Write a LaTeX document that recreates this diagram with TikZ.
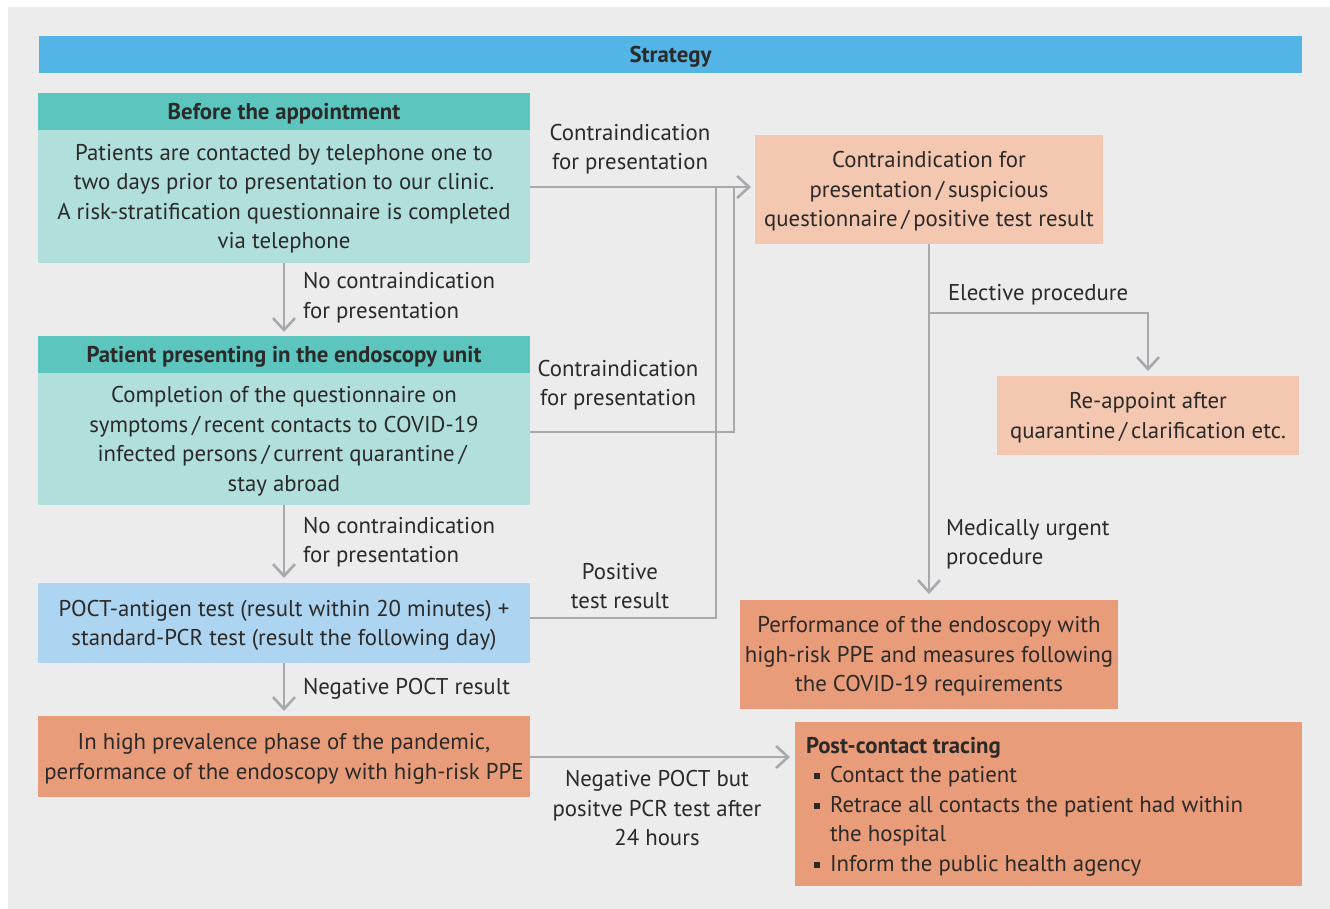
\documentclass[tikz,border=0pt]{standalone}
\usepackage{fontspec}
\setmainfont{PT Sans}
\usetikzlibrary{arrows.meta}
\definecolor{panel}{HTML}{EBECEB}
\definecolor{stratblue}{HTML}{53B4E6}
\definecolor{tealH}{HTML}{5BC5BE}
\definecolor{tealL}{HTML}{B0DFDC}
\definecolor{blueL}{HTML}{ADD4F0}
\definecolor{orangeD}{HTML}{E99C7A}
\definecolor{salmonL}{HTML}{F4C7B0}
\definecolor{linegray}{HTML}{A7A9AC}
\definecolor{txt}{HTML}{2B2A29}
\newcommand\fs{\fontsize{22.8}{29.5}\selectfont}
\newcommand\bul{\makebox[24pt][l]{\hspace{8pt}\raisebox{3.5pt}{\rule{6pt}{6pt}}}}
\newcommand\slsep{\,/\,}
\newcommand\tx[1]{\raisebox{-2pt}[\height][\depth]{\begin{tabular}{@{}c@{}}#1\end{tabular}}}
\newcommand\txl[1]{\raisebox{-2.5pt}[\height][\depth]{\begin{tabular}{@{}l@{}}#1\end{tabular}}}
\begin{document}
\begin{tikzpicture}[x=1pt,y=-1pt,
  every node/.style={font=\fs, text=txt, outer sep=0pt},
  box/.style={inner sep=0pt, align=center},
  hdr/.style={box, fill=tealH, minimum width=492pt, minimum height=37pt, font=\fs\bfseries},
  conn/.style={draw=linegray, line width=2.6pt},
  arr/.style={conn, -{Straight Barb[length=12pt,width=22pt]}},
  lbl/.style={inner sep=0pt, align=center},
  lbll/.style={inner sep=0pt, align=left, anchor=west}]
\useasboundingbox (0,0) rectangle (1330,909);
\fill[panel] (8,7) rectangle (1330,909);

\node[box, fill=stratblue, minimum width=1263pt, minimum height=37pt, font=\fs\bfseries] (strat) at (670.5,54.5) {\tx{Strategy}};

\node[hdr] (h1) at (284,111.5) {\tx{Before the appointment}};
\node[box, fill=tealL, minimum width=492pt, minimum height=133pt] (b1) at (284,196.5)
  {\tx{Patients are contacted by telephone one to\\two days prior to presentation to our clinic.\\A risk-stratification questionnaire is completed\\via telephone}};
\node[hdr] (h2) at (284,354.5) {\tx{Patient presenting in the endoscopy unit}};
\node[box, fill=tealL, minimum width=492pt, minimum height=132pt] (b2) at (284,439)
  {\tx{Completion of the questionnaire on\\symptoms\slsep recent contacts to COVID-19\\infected persons\slsep current quarantine\slsep\\stay abroad}};
\node[box, fill=blueL, minimum width=492pt, minimum height=80pt] (b3) at (284,623)
  {\tx{POCT-antigen test (result within 20 minutes) +\\standard-PCR test (result the following day)}};
\node[box, fill=orangeD, minimum width=492pt, minimum height=81pt] (b4) at (284,756.5)
  {\tx{In high prevalence phase of the pandemic,\\performance of the endoscopy with high-risk PPE}};

\node[box, fill=salmonL, minimum width=348pt, minimum height=109pt] (b5) at (929,189.5)
  {\tx{Contraindication for\\presentation\slsep suspicious\\questionnaire\slsep positive test result}};
\node[box, fill=salmonL, minimum width=302pt, minimum height=79pt] (b6) at (1148,415.5)
  {\tx{Re-appoint after\\quarantine\slsep clarification etc.}};
\node[box, fill=orangeD, minimum width=378pt, minimum height=109pt] (b7) at (929,654.5)
  {\tx{Performance of the endoscopy with\\high-risk PPE and measures following\\the COVID-19 requirements}};
\node[fill=orangeD, inner xsep=11pt, inner ysep=0pt, minimum width=507pt, minimum height=164pt, anchor=west] (b8) at (795,804)
  {\makebox[485pt][l]{\txl{\textbf{Post-contact tracing}\\\bul Contact the patient\\\bul Retrace all contacts the patient had within\\\hphantom{\bul}the hospital\\\bul Inform the public health agency}}};

% labels
\node[lbl] (l1) at (630,149) {Contraindication\\for presentation};
\node[lbl] (l2) at (618,385) {Contraindication\\for presentation};
\node[lbl] (l3) at (620,586) {Positive\\test result};
\node[lbll] (l4) at (303,297.5) {No contraindication\\for presentation};
\node[lbll] (l5) at (303,542) {No contraindication\\for presentation};
\node[lbll] (l6) at (303,688.5) {Negative POCT result};
\node[lbll] (l7) at (948,294.5) {Elective procedure};
\node[lbll] (l8) at (946,544) {Medically urgent\\procedure};
\node[lbl] (l9) at (657,808.5) {Negative POCT but\\positve PCR test after\\24 hours};

% connectors
\draw[arr, shorten >=4pt] (b1.south) -- (h2.north);
\draw[arr, shorten >=5pt] (b2.south) -- (b3.north);
\draw[arr, shorten >=5pt] (b3.south) -- (b4.north);

\coordinate (ja) at (716,187);
\coordinate (jb) at (734,187);
\coordinate (ka) at (716,618);
\coordinate (kb) at (734,432);
\draw[arr, shorten >=4pt] (b1.east |- ja) -- (b5.west |- ja);
\draw[conn] (b2.east |- kb) -- (kb) -- (jb);
\draw[conn] (b3.east |- ka) -- (ka) -- (ja);

\coordinate (kc) at (929,313);
\coordinate (kd) at (530,757);
\draw[arr, shorten >=6pt] (b5.south) -- (b7.north);
\draw[arr, shorten >=5pt] (kc) -- (kc -| b6.north) -- (b6.north);
\draw[arr, shorten >=5pt] (b4.east |- kd) -- (b8.west |- kd);
\end{tikzpicture}
\end{document}
